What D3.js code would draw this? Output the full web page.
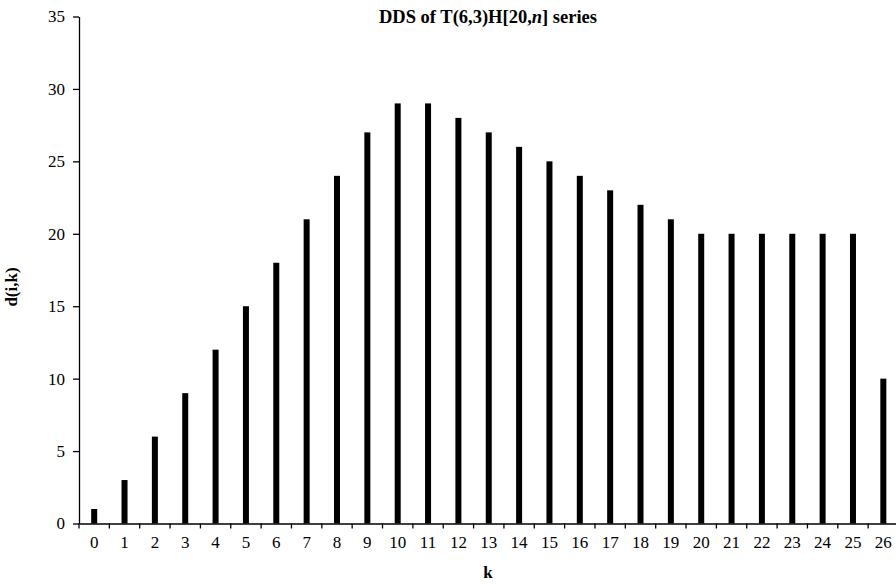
<!DOCTYPE html>
<html><head><meta charset="utf-8">
<script src="https://cdn.jsdelivr.net/npm/d3@7"></script>
<style>body{margin:0;background:#fff}svg{display:block}</style>
</head><body><svg id="c" width="896" height="584"></svg>
<script>
const categories = d3.range(0, 27).map(String);
const values = [1,3,6,9,12,15,18,21,24,27,29,29,28,27,26,25,24,23,22,21,20,20,20,20,20,20,10];
const yTicks = [0,5,10,15,20,25,30,35];

(function(){
const FONT = "'Liberation Serif', 'Times New Roman', Times, serif";
const svg = d3.select("#c");
const mLeft = 79, mRight = 898.5, mTop = 16.5, mBottom = 523.5;
const x = d3.scaleBand().domain(categories).range([mLeft, mRight]).padding(0);
const y = d3.scaleLinear().domain([0, 35]).range([mBottom, mTop]);

svg.append("g").selectAll("rect").data(values).join("rect")
  .attr("x", (d,i) => x(categories[i]) + x.bandwidth()/2 - 3)
  .attr("width", 6)
  .attr("y", d => y(d))
  .attr("height", d => y(0) - y(d))
  .attr("fill", "#000");

const yAxis = svg.append("g").attr("transform", `translate(${mLeft},0)`)
  .call(d3.axisLeft(y).tickValues(yTicks).tickSize(6).tickPadding(8).tickSizeOuter(0));
yAxis.attr("font-family", null);
yAxis.selectAll("text").style("font-size", "17px").style("font-family", FONT).attr("fill", "#000");
yAxis.selectAll("line,path").attr("stroke", "#000").attr("stroke-width", 1.3);

const xAxis = svg.append("g").attr("transform", `translate(0,${mBottom})`)
  .call(d3.axisBottom(x).tickSize(0).tickPadding(12).tickSizeOuter(0));
xAxis.attr("font-family", null);
xAxis.selectAll("text").style("font-size", "17px").style("font-family", FONT).attr("fill", "#000");
xAxis.select("path").attr("stroke", "#000").attr("stroke-width", 1.3);
xAxis.selectAll(".tick line").remove();
svg.append("g").selectAll("line").data(categories).join("line")
  .attr("x1", d => x(d)).attr("x2", d => x(d))
  .attr("y1", mBottom).attr("y2", mBottom + 5)
  .attr("stroke", "#000").attr("stroke-width", 1.3);

const title = svg.append("text").attr("x", 488).attr("y", 22.5).attr("text-anchor", "middle")
  .style("font-family", FONT).style("font-size", "18.5px").style("font-weight", "bold");
title.append("tspan").text("DDS of T(6,3)H[20,");
title.append("tspan").style("font-style", "italic").text("n");
title.append("tspan").text("] series");

svg.append("text").attr("x", 488).attr("y", 578).attr("text-anchor", "middle")
  .style("font-family", FONT).style("font-size", "17px").style("font-weight", "bold").text("k");

svg.append("text").attr("transform", "translate(17,287) rotate(-90)").attr("text-anchor", "middle")
  .style("font-family", FONT).style("font-size", "17px").style("font-weight", "bold").text("d(i,k)");
})();
</script></body></html>
